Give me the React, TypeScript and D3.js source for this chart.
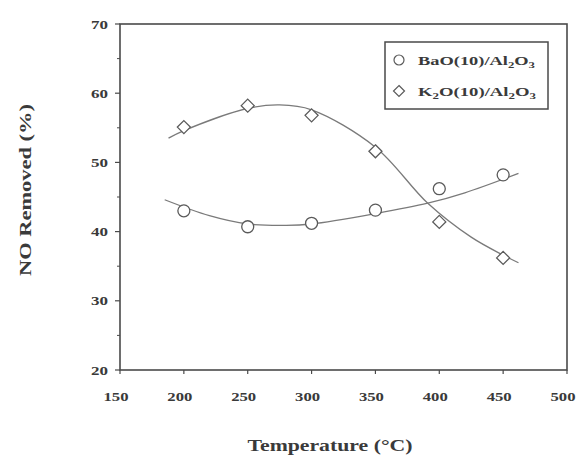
import React from "react";
import * as d3 from "d3";

const temps = [200, 250, 300, 350, 400, 450];
const baoValues = [43.0, 40.7, 41.2, 43.1, 46.2, 48.2];
const k2oValues = [55.1, 58.2, 56.8, 51.6, 41.4, 36.2];

// fitted trend lines
const baoFitT = [185, 220, 250, 280, 300, 350, 391, 420, 462];
const baoFitV = [44.6, 42.3, 41.1, 40.9, 41.1, 42.6, 44.1, 45.6, 48.4];
const k2oFitT = [188, 200, 250, 275, 300, 350, 391, 425, 450, 462];
const k2oFitV = [53.5, 54.6, 57.8, 58.3, 57.6, 52.2, 44.1, 39.2, 36.6, 35.5];

const xTicks = [150, 200, 250, 300, 350, 400, 450, 500];
const yTicks = [20, 30, 40, 50, 60, 70];
const yMinor = [25, 35, 45, 55, 65];

const legendLabels = ["BaO(10)/Al", "K"];

export default function App() {
  const width = 576;
  const height = 456;
  const margin = { top: 24, left: 120, right: 9, bottom: 86 };

  const x = d3.scaleLinear().domain([150, 500]).range([margin.left, width - margin.right]);
  const y = d3.scaleLinear().domain([20, 70]).range([height - margin.bottom, margin.top]);

  const line = d3
    .line<[number, number]>()
    .x(d => x(d[0]))
    .y(d => y(d[1]))
    .curve(d3.curveCatmullRom.alpha(0.5));

  const baoFit = baoFitT.map((t, i) => [t, baoFitV[i]] as [number, number]);
  const k2oFit = k2oFitT.map((t, i) => [t, k2oFitV[i]] as [number, number]);

  const ink = "#4a4a4a";
  const txt = "#3a3a3a";
  const font = "'Liberation Serif', 'DejaVu Serif', serif";
  const x0 = x(150), x1 = x(500), y0 = y(20), y1 = y(70);

  const diamond = (cx: number, cy: number, r: number) =>
    `M${cx},${cy - r}L${cx + r},${cy}L${cx},${cy + r}L${cx - r},${cy}Z`;

  return (
    <svg width={width} height={height} style={{ position: "absolute", left: 0, top: 0, background: "#fff" }}>
      {/* frame */}
      <rect x={x0} y={y1} width={x1 - x0} height={y0 - y1} fill="none" stroke={ink} strokeWidth={1.6} />

      {/* y axis */}
      {yTicks.map(t => (
        <g key={"y" + t}>
          <line x1={x0 - 5} x2={x0} y1={y(t)} y2={y(t)} stroke={ink} strokeWidth={1.2} />
          <text x={x0 - 12} y={y(t)} dy="0.35em" textAnchor="end" fontFamily={font} fontSize={13} fontWeight="bold" fill={txt}
            textLength={17} lengthAdjust="spacingAndGlyphs">
            {t}
          </text>
        </g>
      ))}
      {yMinor.map(t => (
        <line key={"ym" + t} x1={x0 - 3} x2={x0} y1={y(t)} y2={y(t)} stroke={ink} strokeWidth={1} />
      ))}

      {/* x axis */}
      {xTicks.map(t => (
        <g key={"x" + t}>
          <line x1={x(t)} x2={x(t)} y1={y0} y2={y0 + 4} stroke={ink} strokeWidth={1.2} />
          <text x={x(t) - 4} y={y0 + 31} textAnchor="middle" fontFamily={font} fontSize={13} fontWeight="bold" fill={txt}
            textLength={25} lengthAdjust="spacingAndGlyphs">
            {t}
          </text>
        </g>
      ))}

      {/* axis titles */}
      <text x={330} y={451} textAnchor="middle" fontFamily={font} fontSize={17} fontWeight="bold" fill={txt}
        textLength={165} lengthAdjust="spacingAndGlyphs">
        Temperature (°C)
      </text>
      <text
        transform={`translate(31,${190}) rotate(-90)`}
        textAnchor="middle"
        fontFamily={font}
        fontSize={17}
        fontWeight="bold"
        fill={txt}
        textLength={172}
        lengthAdjust="spacingAndGlyphs"
      >
        NO Removed (%)
      </text>

      {/* fit lines */}
      <path d={line(baoFit) ?? ""} fill="none" stroke="#7a7a7a" strokeWidth={1.3} />
      <path d={line(k2oFit) ?? ""} fill="none" stroke="#7a7a7a" strokeWidth={1.3} />

      {/* markers */}
      {temps.map((t, i) => (
        <circle key={"b" + t} cx={x(t)} cy={y(baoValues[i])} r={6} fill="#fff" stroke="#5a5a5a" strokeWidth={1.3} />
      ))}
      {temps.map((t, i) => (
        <path key={"k" + t} d={diamond(x(t), y(k2oValues[i]), 6.5)} fill="#fff" stroke="#5a5a5a" strokeWidth={1.3} />
      ))}

      {/* legend */}
      <rect x={385} y={42} width={163} height={67} fill="#fff" stroke={ink} strokeWidth={1.5} />
      <circle cx={399} cy={60} r={5} fill="#fff" stroke="#5a5a5a" strokeWidth={1.2} />
      <text x={418} y={60} dy="0.35em" fontFamily={font} fontSize={13} fontWeight="bold" fill={txt}
        textLength={117} lengthAdjust="spacingAndGlyphs">
        {legendLabels[0]}
        <tspan fontSize={9} dy={3}>2</tspan>
        <tspan dy={-3}>O</tspan>
        <tspan fontSize={9} dy={3}>3</tspan>
      </text>
      <path d={diamond(399, 91, 5.5)} fill="#fff" stroke="#5a5a5a" strokeWidth={1.2} />
      <text x={418} y={91} dy="0.35em" fontFamily={font} fontSize={13} fontWeight="bold" fill={txt}
        textLength={118} lengthAdjust="spacingAndGlyphs">
        {legendLabels[1]}
        <tspan fontSize={9} dy={3}>2</tspan>
        <tspan dy={-3}>O(10)/Al</tspan>
        <tspan fontSize={9} dy={3}>2</tspan>
        <tspan dy={-3}>O</tspan>
        <tspan fontSize={9} dy={3}>3</tspan>
      </text>
    </svg>
  );
}
